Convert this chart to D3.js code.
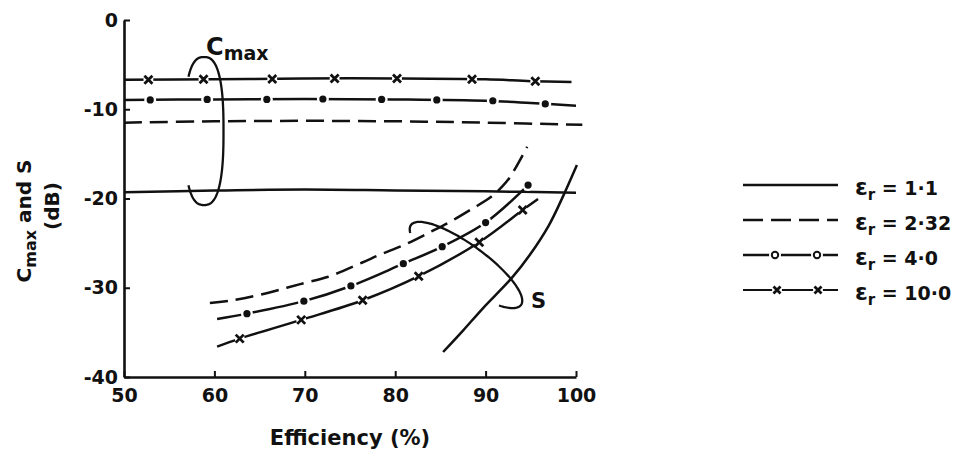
<!DOCTYPE html>
<html>
<head>
<meta charset="utf-8">
<script src="https://cdn.jsdelivr.net/npm/d3@7"></script>
<style>
  body { margin: 0; background: #fff; }
  svg { display: block; }
  text { font-family: "DejaVu Sans", sans-serif; font-weight: bold; fill: #111; }
</style>
</head>
<body>
<svg id="chart" width="960" height="456"></svg>
<script>
// ---- axis ticks ----
const xTicks = [50, 60, 70, 80, 90, 100];
const yTicks = [0, -10, -20, -30, -40];

// ---- legend labels (relative permittivity) ----
const epsLabels = ["1·1", "2·32", "4·0", "10·0"];

// ---- C_max curves: efficiency (%) vs level (dB) ----
const cmaxEff11 = [50, 60, 70, 80, 90, 100];
const cmaxLev11 = [-19.3, -19.1, -19.0, -19.1, -19.2, -19.35];

const cmaxEff232 = [50, 60, 70, 80, 90, 100.7];
const cmaxLev232 = [-11.5, -11.35, -11.3, -11.35, -11.5, -11.75];

const cmaxEff40 = [50, 60, 70, 80, 90, 95, 100];
const cmaxLev40 = [-8.95, -8.9, -8.85, -8.9, -9.05, -9.3, -9.6];
const cmaxMarkEff40 = [52.9, 59.2, 65.8, 72.0, 78.5, 84.6, 90.8, 96.6];
const cmaxMarkLev40 = [-8.95, -8.9, -8.9, -8.85, -8.9, -8.95, -9.05, -9.4];

const cmaxEff10 = [50, 60, 70, 80, 90, 95, 99.5];
const cmaxLev10 = [-6.7, -6.65, -6.55, -6.55, -6.65, -6.85, -6.95];
const cmaxMarkEff10 = [52.7, 58.8, 66.4, 73.3, 80.2, 88.5, 95.5];
const cmaxMarkLev10 = [-6.7, -6.65, -6.6, -6.55, -6.55, -6.65, -6.85];

// ---- S curves: efficiency (%) vs level (dB) ----
const sEff11 = [85.3, 87.5, 89.7, 92.9, 94.9, 97.0, 98.5, 100.1];
const sLev11 = [-37.2, -34.8, -32.3, -28.9, -26.3, -23.0, -19.9, -16.25];

const sEff232 = [59.5, 62, 65, 68, 70.2, 72.5, 76.3, 78.3, 81, 83.8, 86.1, 88.6, 90.5, 91.8, 92.7, 94.6];
const sLev232 = [-31.7, -31.4, -30.8, -30.0, -29.4, -28.8, -27.2, -26.3, -25.2, -23.8, -22.6, -21.1, -19.9, -18.7, -17.6, -14.2];

const sEff40 = [60.3, 63.6, 69.9, 75.1, 80.9, 85.2, 90.0, 94.7];
const sLev40 = [-33.5, -32.9, -31.5, -29.8, -27.3, -25.4, -22.7, -18.5];
const sMarkEff40 = [63.6, 69.9, 75.1, 80.9, 85.2, 90.0, 94.7];
const sMarkLev40 = [-32.9, -31.5, -29.8, -27.3, -25.4, -22.7, -18.5];

const sEff10 = [60.3, 62.8, 69.6, 76.4, 82.6, 89.3, 94.1, 95.8];
const sLev10 = [-36.6, -35.7, -33.6, -31.4, -28.7, -24.9, -21.3, -20.05];
const sMarkEff10 = [62.8, 69.6, 76.4, 82.6, 89.3, 94.1];
const sMarkLev10 = [-35.7, -33.6, -31.4, -28.7, -24.9, -21.3];

const INK = "#111";
const svg = d3.select("#chart");

const x = d3.scaleLinear().domain([50, 100]).range([124, 576]);
const y = d3.scaleLinear().domain([-40, 0]).range([377, 20]);

// ---- axes ----
const gx = svg.append("g")
  .attr("transform", `translate(0,${y(-40)})`)
  .call(d3.axisBottom(x).tickValues(xTicks).tickFormat(d => String(d))
    .tickSize(-6).tickSizeOuter(0).tickPadding(12));
const gy = svg.append("g")
  .attr("transform", `translate(${x(50)},0)`)
  .call(d3.axisLeft(y).tickValues(yTicks).tickFormat(d => String(d))
    .tickSize(-6).tickSizeOuter(0).tickPadding(6));

[gx, gy].forEach(g => {
  g.select(".domain").attr("stroke", INK).attr("stroke-width", 2.6);
  g.selectAll(".tick line").attr("stroke", INK).attr("stroke-width", 2);
  g.selectAll(".tick text").attr("fill", INK).attr("font-size", 19)
    .attr("font-family", "DejaVu Sans").attr("font-weight", "bold");
});

// axis titles
svg.append("text")
  .attr("x", 350).attr("y", 445)
  .attr("text-anchor", "middle").attr("font-size", 21)
  .text("Efficiency (%)");

const yTitle = svg.append("text")
  .attr("transform", "translate(31,221) rotate(-90)")
  .attr("text-anchor", "middle").attr("font-size", 20);
yTitle.append("tspan").text("C");
yTitle.append("tspan").attr("font-size", 16).attr("dy", 5).text("max");
yTitle.append("tspan").attr("dy", -5).text(" and S");

svg.append("text")
  .attr("transform", "translate(59,206) rotate(-90)")
  .attr("text-anchor", "middle").attr("font-size", 20)
  .text("(dB)");

// ---- series ----
const line = d3.line().x(d => x(d[0])).y(d => y(d[1])).curve(d3.curveCatmullRom.alpha(0.5));
const plot = svg.append("g");

const series = [
  { eff: cmaxEff11, lev: cmaxLev11, dash: null },
  { eff: cmaxEff232, lev: cmaxLev232, dash: "18,8" },
  { eff: cmaxEff40, lev: cmaxLev40, dash: null },
  { eff: cmaxEff10, lev: cmaxLev10, dash: null },
  { eff: sEff11, lev: sLev11, dash: null },
  { eff: sEff232, lev: sLev232, dash: "18,8" },
  { eff: sEff40, lev: sLev40, dash: null },
  { eff: sEff10, lev: sLev10, dash: null }
];
series.forEach(s => {
  plot.append("path")
    .datum(d3.zip(s.eff, s.lev))
    .attr("d", line)
    .attr("fill", "none")
    .attr("stroke", INK)
    .attr("stroke-width", 2.5)
    .attr("stroke-dasharray", s.dash);
});

// markers: white halo breaks the line around each symbol
function drawDot(g, px, py, open) {
  g.append("circle").attr("cx", px).attr("cy", py).attr("r", 6).attr("fill", "#fff");
  g.append("circle").attr("cx", px).attr("cy", py).attr("r", open ? 3.2 : 3.6)
    .attr("fill", open ? "#fff" : INK).attr("stroke", INK).attr("stroke-width", open ? 2 : 0);
}
function drawCross(g, px, py, s) {
  g.append("circle").attr("cx", px).attr("cy", py).attr("r", 5).attr("fill", "#fff");
  g.append("path")
    .attr("d", `M${px - s},${py - s}L${px + s},${py + s}M${px - s},${py + s}L${px + s},${py - s}`)
    .attr("stroke", INK).attr("stroke-width", 2.8).attr("fill", "none");
}
const marks = svg.append("g");
d3.zip(cmaxMarkEff40, cmaxMarkLev40).forEach(d => drawDot(marks, x(d[0]), y(d[1]), false));
d3.zip(sMarkEff40, sMarkLev40).forEach(d => drawDot(marks, x(d[0]), y(d[1]), false));
d3.zip(cmaxMarkEff10, cmaxMarkLev10).forEach(d => drawCross(marks, x(d[0]), y(d[1]), 4));
d3.zip(sMarkEff10, sMarkLev10).forEach(d => drawCross(marks, x(d[0]), y(d[1]), 4));

// ---- loops grouping the curve families ----
const rad = Math.PI / 180;
// C_max loop: rounded outline, open on the left side
const cLoopC = [x(58.85), y(-12.44)];
const cLoopPts = d3.range(-138, 139, 2).map(a => {
  const t = a * rad, e = 2 / 2.6;
  const cx = Math.sign(Math.cos(t)) * Math.pow(Math.abs(Math.cos(t)), e);
  const cy = Math.sign(Math.sin(t)) * Math.pow(Math.abs(Math.sin(t)), e);
  return [cLoopC[0] + 19.5 * cx, cLoopC[1] + 74 * cy];
});
svg.append("path").attr("d", d3.line().curve(d3.curveLinear)(cLoopPts))
  .attr("fill", "none").attr("stroke", INK).attr("stroke-width", 2.3);

// S loop: tilted ellipse, open at its lower-left side
const sLoopC = [x(87.83), y(-27.45)];
const phi = 36 * rad;
const sLoopPts = d3.range(160, 404, 2).map(a => {
  const t = a * rad;
  const u = 68 * Math.cos(t), v = 20 * Math.sin(t);
  return [sLoopC[0] + u * Math.cos(phi) - v * Math.sin(phi),
          sLoopC[1] + u * Math.sin(phi) + v * Math.cos(phi)];
});
svg.append("path").attr("d", d3.line().curve(d3.curveLinear)(sLoopPts))
  .attr("fill", "none").attr("stroke", INK).attr("stroke-width", 2.3);

// loop labels
const cLab = svg.append("text").attr("x", cLoopC[0] + 2).attr("y", 55).attr("font-size", 24);
cLab.append("tspan").text("C");
cLab.append("tspan").attr("font-size", 19).attr("dy", 5).text("max");

svg.append("text").attr("x", sLoopC[0] + 65).attr("y", 308).attr("font-size", 21).text("S");

// ---- legend ----
const legend = svg.append("g");
const rowY = [185, 220, 255, 290];
epsLabels.forEach((lab, i) => {
  const ry = rowY[i];
  legend.append("line")
    .attr("x1", 743).attr("x2", 838).attr("y1", ry).attr("y2", ry)
    .attr("stroke", INK).attr("stroke-width", i === 3 ? 2 : 2.4)
    .attr("stroke-dasharray", i === 1 ? "20,8" : null);
  if (i === 2) { drawDot(legend, 775, ry, true); drawDot(legend, 817, ry, true); }
  if (i === 3) { drawCross(legend, 777, ry, 3.5); drawCross(legend, 818, ry, 3.5); }
  const t = legend.append("text").attr("x", 855).attr("y", ry + 10).attr("font-size", 19);
  t.append("tspan").attr("font-size", 23).text("ε");
  t.append("tspan").attr("font-size", 15).attr("dy", 5).text("r");
  t.append("tspan").attr("dy", -5).text(" = " + lab);
});
</script>
</body>
</html>
